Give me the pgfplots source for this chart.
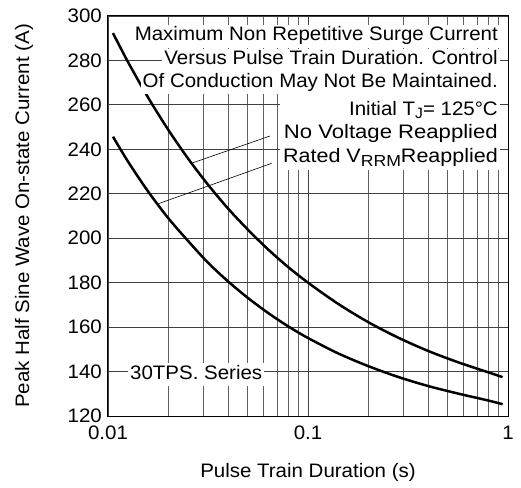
\documentclass[border=0pt]{standalone}
\usepackage{graphicx}
\usepackage{fontspec}
\setmainfont{Liberation Sans}[FakeStretch=1.05]
\usepackage{pgfplots}
\pgfplotsset{compat=1.18}
\begin{document}
\fontsize{19.5}{23}\selectfont
\begin{tikzpicture}
\begin{axis}[
  name=ax,
  xmode=log,
  width=400pt, height=400pt, scale only axis,
  xmin=0.01, xmax=1, ymin=120, ymax=300,
  xtick={0.01,0.1,1}, xticklabels={0.01,0.1,1},
  minor xtick={0.02,0.03,0.04,0.05,0.06,0.07,0.08,0.09,0.2,0.3,0.4,0.5,0.6,0.7,0.8,0.9},
  ytick={120,140,160,180,200,220,240,260,280,300},
  xmajorgrids, xminorgrids, ymajorgrids,
  major tick length=0pt, minor tick length=0pt,
  /pgf/number format/assume math mode=true,
  yticklabel style={anchor=east, inner sep=0pt, xshift=-6pt},
  xticklabel style={anchor=base, inner sep=0pt, yshift=-23pt},
  xlabel={Pulse Train Duration (s)},
  ylabel={Peak Half Sine Wave On-state Current (A)},
  xlabel style={at={(0.5,-0.1525)}, anchor=base, inner sep=0pt},
  ylabel style={at={(-0.21,0.5)}, anchor=center, inner sep=0pt},
  axis line style={line width=1pt, black},
  major grid style={line width=0.85pt, black!75},
  minor grid style={line width=0.85pt, black!62},
]
\addplot[black, line width=2.5pt, smooth] coordinates {
  (0.01059,292.3) (0.01259,279.3) (0.01585,263.4) (0.01995,249.0) (0.02512,235.9)
  (0.03162,224.1) (0.03981,213.4) (0.05012,203.8) (0.0631,195.0) (0.07943,187.1)
  (0.1,180.0) (0.1413,170.5) (0.1995,162.3) (0.2818,155.3) (0.3981,149.3)
  (0.5623,144.2) (0.7943,139.7) (0.94,137.5)
};
\addplot[black, line width=2.5pt, smooth] coordinates {
  (0.01059,245.7) (0.01259,234.5) (0.01585,221.1) (0.01995,209.2) (0.02512,198.8)
  (0.03162,189.0) (0.03981,180.6) (0.05012,173.1) (0.0631,166.4) (0.07943,160.4)
  (0.1,155.1) (0.1413,148.2) (0.1995,142.5) (0.2818,137.6) (0.3981,133.5)
  (0.5623,130.1) (0.7943,127.0) (0.94,125.3)
};
\draw[line width=0.6pt] (axis cs:0.02667,234) -- (axis cs:0.0646,246);
\draw[line width=0.6pt] (axis cs:0.01784,215.5) -- (axis cs:0.0658,233.7);
\tikzset{ann/.style={fill=white, inner xsep=2pt, inner ysep=2pt, text height=14pt, text depth=5pt, anchor=base east}}
\node[ann] at (rel axis cs:0.98,0.9383) {Maximum Non Repetitive Surge Current};
\node[ann] at (rel axis cs:0.98,0.8775) {Versus Pulse Train Duration. Control};
\node[ann] at (rel axis cs:0.98,0.8218) {Of Conduction May Not Be Maintained.};
\fill[white] (rel axis cs:0.43,0.805) rectangle (rel axis cs:0.98,0.615);
\node[anchor=base east, inner sep=0pt] at (rel axis cs:0.975,0.75) {Initial T\raisebox{-3pt}{\fontsize{15}{15}\selectfont J}= 125°C};
\node[anchor=base east, inner sep=0pt] at (rel axis cs:0.975,0.6925) {\scalebox{1.08}[1]{No Voltage Reapplied}};
\node[anchor=base east, inner sep=0pt] at (rel axis cs:0.975,0.6325) {\scalebox{1.05}[1]{Rated V\raisebox{-4pt}{\fontsize{16}{16}\selectfont RRM}Reapplied}};
\node[fill=white, inner xsep=2pt, inner ysep=2pt, text height=14pt, text depth=5pt, anchor=base west] at (rel axis cs:0.05,0.09175) {30TPS. Series};
\end{axis}
\path (ax.south west) ++(-108pt,-71pt) rectangle ++(521pt,487pt);
\end{tikzpicture}
\end{document}
